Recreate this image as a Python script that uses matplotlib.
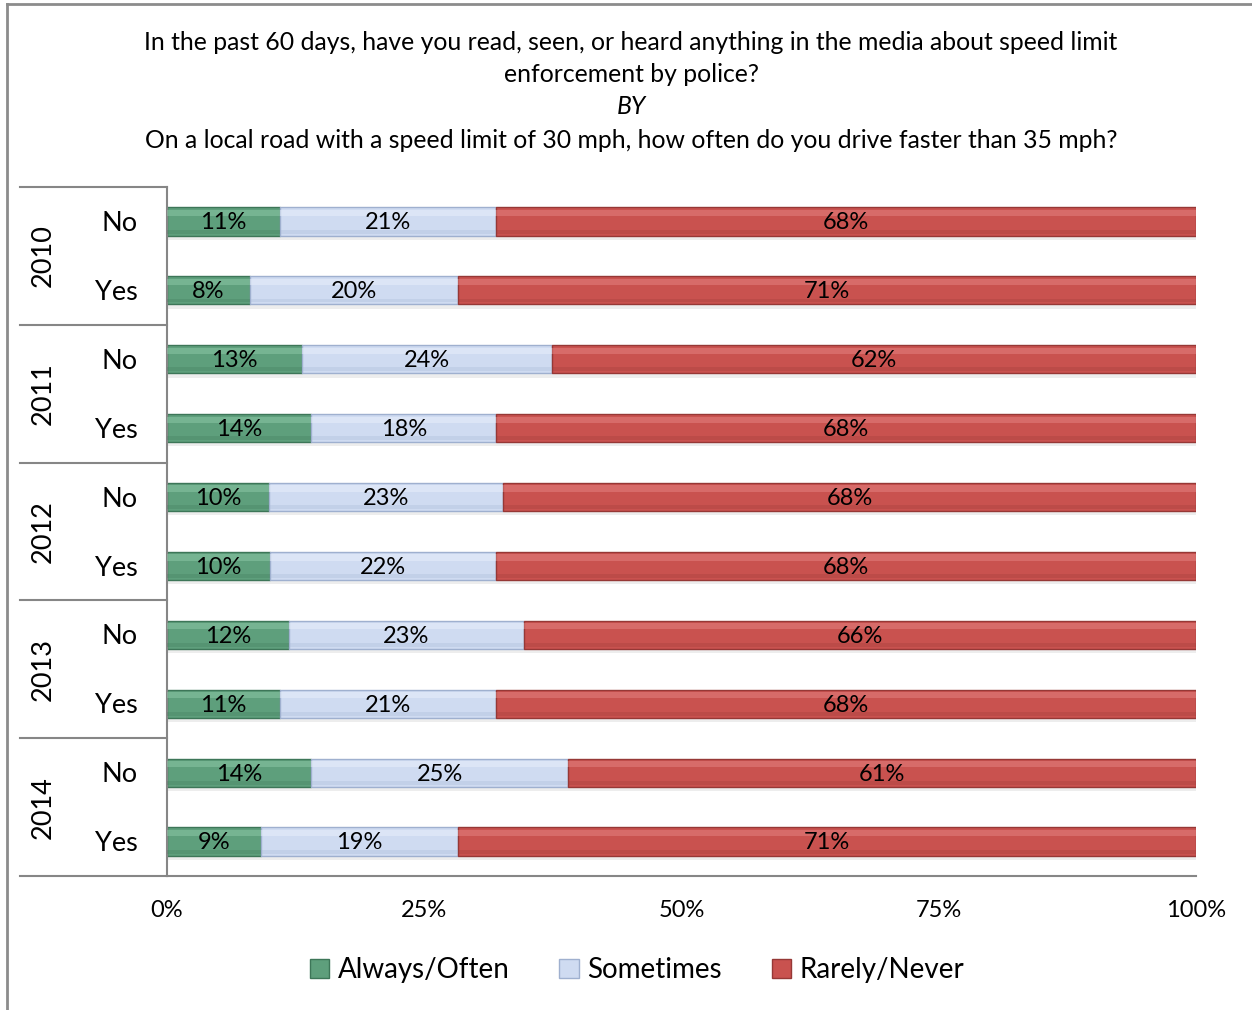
import numpy as np
import matplotlib.pyplot as plt
from matplotlib.patches import Rectangle
from matplotlib.lines import Line2D
from matplotlib.transforms import blended_transform_factory

plt.rcParams['font.family'] = ['Lato', 'DejaVu Sans']

years = ['2010', '2011', '2012', '2013', '2014']
responses = ['No', 'Yes']
series = ['Always/Often', 'Sometimes', 'Rarely/Never']

always = [11, 8, 13, 14, 10, 10, 12, 11, 14, 9]
sometimes = [21, 20, 24, 18, 23, 22, 23, 21, 25, 19]
rarely = [68, 71, 62, 68, 68, 68, 66, 68, 61, 71]

# face, highlight, edge
colors = [('#5e9f7c', '#8fc9a8', '#3d7658'),
          ('#cfdbf1', '#eaf0fb', '#9fb0cf'),
          ('#c9524f', '#e68583', '#963836')]

fig = plt.figure(figsize=(12.52, 10.10), dpi=100)
ax = fig.add_axes([167 / 1252, 1 - 876 / 1010, 1029 / 1252, 689 / 1010])

data = np.array([always, sometimes, rarely], dtype=float)
share = data / data.sum(axis=0) * 100
rows = np.arange(data.shape[1])
h = 0.41

left = np.zeros(len(rows))
for k in range(3):
    face, hi, edge = colors[k]
    w = share[k]
    # soft shadow under the bar
    ax.barh(rows + 0.06, w, left=left, height=h, color='#000000', alpha=0.07,
            linewidth=0, zorder=1)
    ax.barh(rows, w, left=left, height=h, color=face, edgecolor=edge,
            linewidth=1.0, zorder=2)
    # top highlight and lower darker band for a bevelled look
    ax.barh(rows - h * 0.30, w, left=left, height=h * 0.22, color=hi,
            alpha=0.5, linewidth=0, zorder=3)
    ax.barh(rows + h * 0.36, w, left=left, height=h * 0.14, color=edge,
            alpha=0.25, linewidth=0, zorder=3)
    for r in rows:
        ax.text(left[r] + w[r] / 2, r + 0.02, '%d%%' % data[k, r], ha='center',
                va='center', fontsize=17, color='black', zorder=4)
    left = left + w

ax.set_xlim(0, 100)
ax.set_ylim(9.5, -0.5)
ax.set_xticks([0, 25, 50, 75, 100])
ax.set_xticklabels(['0%', '25%', '50%', '75%', '100%'], fontsize=17)
ax.tick_params(axis='x', length=0, pad=17)
ax.set_yticks([])
for s in ['top', 'right']:
    ax.spines[s].set_visible(False)
for s in ['left', 'bottom']:
    ax.spines[s].set_color('#868686')
    ax.spines[s].set_linewidth(1.5)

# category grid on the left: group separators, year and response labels
trans = blended_transform_factory(ax.transAxes, ax.transData)
x0 = (20 - 167) / 1029
for i in range(len(years) + 1):
    yb = i * 2 - 0.5
    ax.plot([x0, 0], [yb, yb], color='#868686', lw=1.5, transform=trans,
            clip_on=False)
for i, yr in enumerate(years):
    ax.text((43 - 167) / 1029, i * 2 + 0.5, yr, rotation=90, ha='center',
            va='center', fontsize=19.5, transform=trans)
    for j, resp in enumerate(responses):
        ax.text((138 - 167) / 1029, i * 2 + j + 0.03, resp, ha='right',
                va='center', fontsize=19.5, transform=trans)

# title
title_lines = [
    ('In the past 60 days, have you read, seen, or heard anything in the media about speed limit', 'normal'),
    ('enforcement by police?', 'normal'),
    ('BY', 'italic'),
    ('On a local road with a speed limit of 30 mph, how often do you drive faster than 35 mph?', 'normal'),
]
for (txt, style), yp in zip(title_lines, [43, 75, 107, 140]):
    fig.text(631 / 1252, 1 - yp / 1010, txt, ha='center', va='center',
             fontsize=17.8, style=style)

# outer frame
fig.add_artist(Line2D([7 / 1252, 1], [1 - 4 / 1010, 1 - 4 / 1010],
                      color='#8c8c8c', lw=2))
fig.add_artist(Line2D([7 / 1252, 7 / 1252], [0, 1 - 4 / 1010],
                      color='#8c8c8c', lw=2))

handles = [Rectangle((0, 0), 1, 1, facecolor=c[0], edgecolor=c[2])
           for c in colors]
fig.legend(handles, series, loc='center', bbox_to_anchor=(637 / 1252, 1 - 970 / 1010),
           ncol=3, frameon=False, fontsize=20, handlelength=0.7,
           handleheight=0.7, handletextpad=0.3, columnspacing=1.8)

fig.savefig('out.png', dpi=100)
